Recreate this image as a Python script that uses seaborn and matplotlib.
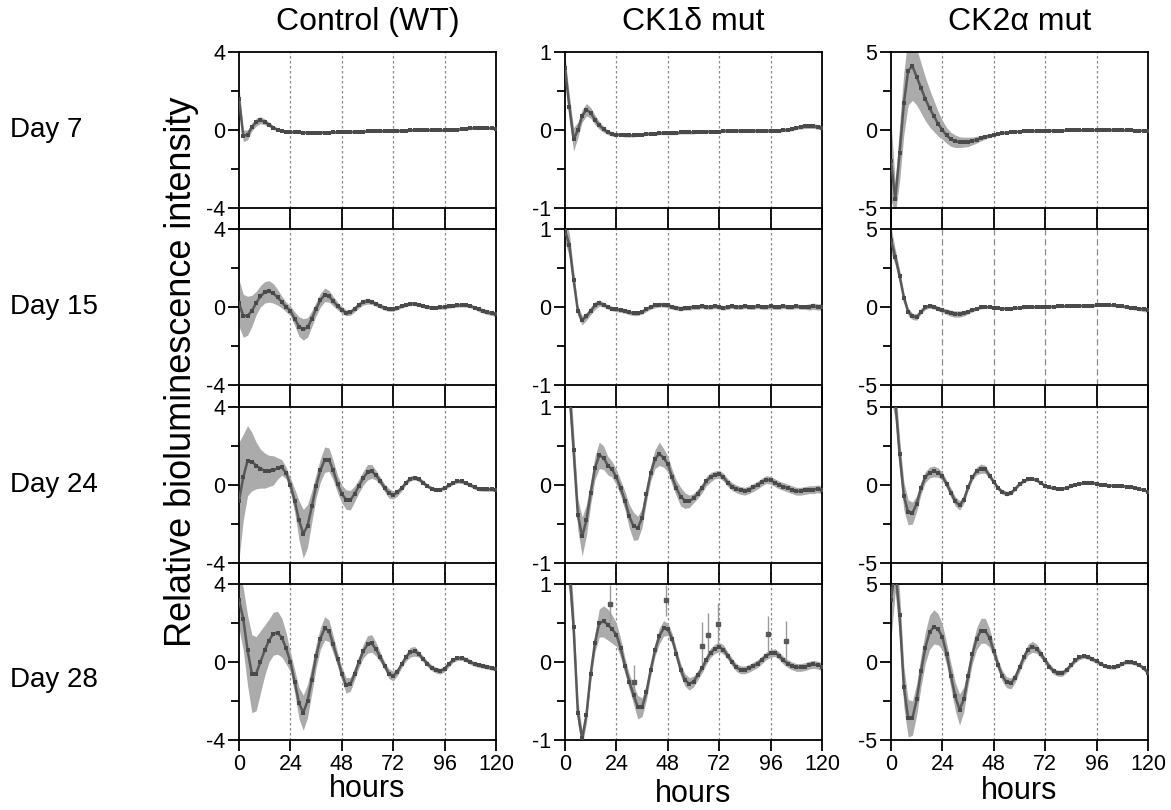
import numpy as np
import matplotlib
matplotlib.use("Agg")
import matplotlib.pyplot as plt
import seaborn as sns

# ---- data (2 h sampling) ----
hours = list(range(0, 121, 2))

conditions = ["Control (WT)", "CK1δ mut", "CK2α mut"]
days = ["Day 7", "Day 15", "Day 24", "Day 28"]
y_limits = [4, 1, 5]
x_ticks = [0, 24, 48, 72, 96, 120]
day_lines = [24, 48, 72, 96]

wt_d7_mean = [1.6, -0.3, -0.25, 0.15, 0.4, 0.5, 0.42, 0.28, 0.12, 0.02,
              -0.05, -0.1, -0.1, -0.12, -0.12, -0.13, -0.13, -0.13, -0.13, -0.13,
              -0.13, -0.13, -0.12, -0.12, -0.12, -0.11, -0.1, -0.1, -0.09, -0.08,
              -0.07, -0.07, -0.06, -0.06, -0.05, -0.05, -0.05, -0.05, -0.04, -0.03,
              -0.02, -0.01, 0.0, 0.0, 0.0, -0.01, -0.02, -0.02, -0.02, -0.01,
              0.0, 0.02, 0.04, 0.06, 0.08, 0.1, 0.1, 0.1, 0.1, 0.08,
              0.06]
wt_d7_sd = [0.6, 0.3, 0.25, 0.2, 0.2, 0.18, 0.15, 0.12, 0.1, 0.08,
            0.07, 0.06, 0.06, 0.06, 0.06, 0.06, 0.06, 0.06, 0.06, 0.06,
            0.06, 0.06, 0.06, 0.06, 0.06, 0.06, 0.06, 0.06, 0.06, 0.06,
            0.06, 0.06, 0.06, 0.06, 0.06, 0.06, 0.06, 0.06, 0.06, 0.06,
            0.06, 0.06, 0.06, 0.06, 0.06, 0.06, 0.06, 0.06, 0.06, 0.06,
            0.06, 0.06, 0.06, 0.06, 0.06, 0.06, 0.06, 0.06, 0.06, 0.06,
            0.06]

ck1_d7_mean = [0.8, 0.3, -0.12, 0.0, 0.18, 0.26, 0.22, 0.13, 0.06, 0.01,
               -0.03, -0.05, -0.06, -0.06, -0.07, -0.07, -0.07, -0.06, -0.06, -0.05,
               -0.05, -0.05, -0.04, -0.04, -0.04, -0.04, -0.04, -0.03, -0.03, -0.03,
               -0.03, -0.02, -0.02, -0.02, -0.02, -0.02, -0.02, -0.01, -0.01, -0.01,
               -0.01, -0.01, -0.01, -0.01, -0.01, -0.01, -0.01, -0.01, -0.01, -0.01,
               -0.01, 0.0, 0.0, 0.01, 0.03, 0.04, 0.05, 0.05, 0.05, 0.04,
               0.03]
ck1_d7_sd = [0.15, 0.15, 0.15, 0.1, 0.08, 0.08, 0.07, 0.06, 0.05, 0.04,
             0.03, 0.03, 0.02, 0.02, 0.02, 0.02, 0.02, 0.02, 0.02, 0.02,
             0.02, 0.02, 0.02, 0.02, 0.02, 0.02, 0.02, 0.02, 0.02, 0.02,
             0.02, 0.02, 0.02, 0.02, 0.02, 0.02, 0.02, 0.02, 0.02, 0.02,
             0.02, 0.02, 0.02, 0.02, 0.02, 0.02, 0.02, 0.02, 0.02, 0.02,
             0.02, 0.02, 0.02, 0.02, 0.02, 0.03, 0.03, 0.03, 0.03, 0.03,
             0.03]

ck2_d7_mean = [-2.0, -4.4, -1.5, 1.7, 3.8, 4.1, 3.4, 2.7, 2.0, 1.4,
               0.9, 0.4, 0.0, -0.35, -0.6, -0.72, -0.78, -0.78, -0.76, -0.7,
               -0.62, -0.52, -0.44, -0.36, -0.3, -0.25, -0.2, -0.17, -0.14, -0.12,
               -0.1, -0.09, -0.08, -0.07, -0.06, -0.06, -0.05, -0.05, -0.04, -0.04,
               -0.04, -0.03, -0.03, -0.03, -0.02, -0.02, -0.02, -0.01, -0.01, 0.0,
               0.0, 0.0, -0.01, -0.02, -0.02, -0.03, -0.03, -0.04, -0.04, -0.05,
               -0.05]
ck2_d7_sd = [2.5, 1.0, 1.8, 2.0, 2.2, 2.2, 1.8, 1.6, 1.4, 1.2,
             1.0, 0.8, 0.6, 0.5, 0.45, 0.4, 0.35, 0.32, 0.3, 0.25,
             0.22, 0.18, 0.15, 0.12, 0.1, 0.08, 0.08, 0.07, 0.07, 0.06,
             0.06, 0.06, 0.06, 0.06, 0.06, 0.06, 0.05, 0.05, 0.05, 0.05,
             0.05, 0.05, 0.05, 0.05, 0.05, 0.05, 0.05, 0.05, 0.05, 0.05,
             0.05, 0.05, 0.05, 0.05, 0.05, 0.05, 0.05, 0.05, 0.05, 0.05,
             0.05]

wt_d15_mean = [0.2, -0.45, -0.45, -0.2, 0.2, 0.55, 0.75, 0.8, 0.7, 0.5,
               0.25, 0.0, -0.2, -0.6, -1.0, -1.15, -1.05, -0.6, -0.1, 0.35,
               0.62, 0.55, 0.3, 0.05, -0.15, -0.3, -0.28, -0.1, 0.1, 0.25,
               0.3, 0.25, 0.15, 0.05, -0.05, -0.12, -0.12, -0.05, 0.05, 0.12,
               0.17, 0.17, 0.12, 0.06, 0.0, -0.03, -0.03, -0.02, 0.0, 0.04,
               0.07, 0.09, 0.1, 0.1, 0.05, -0.03, -0.12, -0.2, -0.27, -0.32,
               -0.37]
wt_d15_sd = [1.2, 1.1, 1.0, 0.8, 0.6, 0.55, 0.55, 0.55, 0.5, 0.4,
             0.3, 0.25, 0.25, 0.35, 0.5, 0.55, 0.5, 0.4, 0.35, 0.35,
             0.35, 0.3, 0.25, 0.2, 0.18, 0.15, 0.15, 0.15, 0.15, 0.15,
             0.15, 0.12, 0.12, 0.12, 0.12, 0.1, 0.1, 0.1, 0.1, 0.1,
             0.1, 0.1, 0.1, 0.1, 0.1, 0.1, 0.1, 0.1, 0.1, 0.1,
             0.1, 0.1, 0.1, 0.1, 0.1, 0.1, 0.12, 0.12, 0.12, 0.12,
             0.12]

ck1_d15_mean = [0.98, 0.8, 0.35, -0.05, -0.17, -0.12, -0.05, 0.02, 0.05, 0.03,
                0.0, -0.02, -0.03, -0.04, -0.05, -0.07, -0.08, -0.08, -0.06, -0.03,
                0.0, 0.02, 0.03, 0.03, 0.02, 0.0, -0.01, -0.02, -0.01, -0.01,
                0.0, 0.0, 0.01, 0.0, 0.0, 0.01, 0.0, -0.01, 0.0, 0.01,
                0.0, 0.0, 0.01, 0.0, 0.0, 0.01, 0.0, 0.0, 0.01, 0.0,
                0.0, 0.01, 0.0, 0.0, 0.01, 0.0, 0.0, 0.0, 0.01, 0.0,
                0.0]
ck1_d15_sd = [0.15, 0.15, 0.12, 0.07, 0.06, 0.05, 0.05, 0.05, 0.04, 0.03,
              0.03, 0.03, 0.03, 0.03, 0.03, 0.03, 0.03, 0.03, 0.03, 0.03,
              0.03, 0.03, 0.03, 0.03, 0.03, 0.03, 0.03, 0.03, 0.03, 0.03,
              0.03, 0.03, 0.03, 0.03, 0.03, 0.03, 0.03, 0.03, 0.03, 0.03,
              0.03, 0.03, 0.03, 0.03, 0.03, 0.03, 0.03, 0.03, 0.03, 0.03,
              0.03, 0.03, 0.03, 0.03, 0.03, 0.03, 0.03, 0.04, 0.04, 0.04,
              0.04]

ck2_d15_mean = [4.3, 3.2, 2.0, 0.6, -0.3, -0.6, -0.65, -0.3, -0.02, 0.07,
                0.02, -0.1, -0.2, -0.3, -0.4, -0.45, -0.45, -0.4, -0.3, -0.2,
                -0.1, -0.03, 0.0, -0.02, -0.05, -0.08, -0.1, -0.1, -0.1, -0.08,
                -0.05, -0.03, -0.02, 0.0, 0.0, 0.0, 0.0, 0.02, 0.03, 0.04,
                0.05, 0.05, 0.06, 0.07, 0.07, 0.08, 0.08, 0.08, 0.1, 0.12,
                0.12, 0.12, 0.1, 0.07, 0.04, 0.0, -0.05, -0.08, -0.12, -0.15,
                -0.18]
ck2_d15_sd = [0.8, 0.5, 0.4, 0.3, 0.25, 0.2, 0.2, 0.15, 0.15, 0.15,
              0.15, 0.15, 0.15, 0.18, 0.2, 0.2, 0.2, 0.18, 0.15, 0.12,
              0.1, 0.1, 0.1, 0.08, 0.08, 0.08, 0.08, 0.08, 0.08, 0.08,
              0.08, 0.08, 0.08, 0.08, 0.08, 0.08, 0.08, 0.08, 0.08, 0.08,
              0.08, 0.08, 0.08, 0.08, 0.08, 0.08, 0.08, 0.08, 0.08, 0.08,
              0.08, 0.08, 0.08, 0.08, 0.08, 0.1, 0.1, 0.12, 0.12, 0.15,
              0.15]

wt_d24_mean = [-0.8, 0.4, 1.25, 1.2, 1.0, 0.84, 0.74, 0.72, 0.75, 0.85,
               0.9, 0.62, 0.0, -0.8, -1.8, -2.5, -2.1, -1.1, -0.05, 0.75,
               1.3, 1.3, 0.75, 0.05, -0.45, -0.75, -0.78, -0.45, -0.05, 0.35,
               0.65, 0.7, 0.5, 0.2, -0.15, -0.42, -0.52, -0.38, -0.15, 0.12,
               0.33, 0.38, 0.3, 0.12, -0.06, -0.18, -0.24, -0.24, -0.15, -0.02,
               0.12, 0.2, 0.18, 0.1, 0.0, -0.12, -0.2, -0.22, -0.22, -0.22,
               -0.24]
wt_d24_sd = [3.0, 2.2, 1.8, 1.5, 1.2, 1.0, 0.9, 0.8, 0.75, 0.55,
             0.4, 0.3, 0.35, 0.6, 1.0, 1.25, 1.1, 0.8, 0.6, 0.6,
             0.65, 0.6, 0.5, 0.45, 0.45, 0.5, 0.5, 0.4, 0.35, 0.35,
             0.4, 0.35, 0.25, 0.2, 0.2, 0.25, 0.2, 0.18, 0.15, 0.12,
             0.12, 0.12, 0.12, 0.12, 0.1, 0.1, 0.1, 0.1, 0.1, 0.1,
             0.1, 0.1, 0.1, 0.1, 0.1, 0.1, 0.1, 0.1, 0.1, 0.1,
             0.1]

ck1_d24_mean = [1.6, 1.25, 0.45, -0.38, -0.66, -0.45, -0.1, 0.22, 0.38, 0.35,
                0.25, 0.2, 0.1, -0.04, -0.2, -0.4, -0.53, -0.55, -0.42, -0.12,
                0.15, 0.33, 0.4, 0.35, 0.27, 0.1, -0.04, -0.15, -0.2, -0.21,
                -0.17, -0.11, -0.04, 0.05, 0.1, 0.13, 0.14, 0.1, 0.03, -0.02,
                -0.05, -0.07, -0.08, -0.06, -0.03, 0.0, 0.04, 0.07, 0.06, 0.03,
                0.0, -0.02, -0.04, -0.06, -0.08, -0.08, -0.07, -0.06, -0.06, -0.05,
                -0.06]
ck1_d24_sd = [0.3, 0.3, 0.25, 0.2, 0.25, 0.2, 0.15, 0.15, 0.17, 0.15,
              0.12, 0.1, 0.1, 0.1, 0.12, 0.15, 0.18, 0.15, 0.12, 0.1,
              0.1, 0.12, 0.15, 0.12, 0.1, 0.1, 0.1, 0.12, 0.1, 0.08,
              0.06, 0.06, 0.06, 0.06, 0.06, 0.05, 0.05, 0.05, 0.05, 0.05,
              0.05, 0.05, 0.05, 0.05, 0.05, 0.05, 0.05, 0.05, 0.05, 0.05,
              0.05, 0.05, 0.05, 0.05, 0.05, 0.05, 0.05, 0.05, 0.05, 0.05,
              0.05]

ck2_d24_mean = [7.0, 5.4, 2.0, -0.7, -1.75, -1.8, -1.2, -0.2, 0.5, 0.8,
                0.87, 0.8, 0.55, 0.05, -0.5, -1.05, -1.3, -0.95, -0.15, 0.5,
                0.9, 1.05, 1.0, 0.6, 0.2, -0.2, -0.45, -0.55, -0.5, -0.25,
                0.05, 0.25, 0.38, 0.4, 0.3, 0.12, -0.05, -0.15, -0.22, -0.25,
                -0.25, -0.18, -0.08, 0.02, 0.08, 0.12, 0.13, 0.13, 0.08, 0.02,
                -0.02, -0.04, -0.05, -0.06, -0.07, -0.1, -0.14, -0.2, -0.26, -0.33,
                -0.42]
ck2_d24_sd = [1.5, 1.2, 1.0, 0.9, 0.8, 0.7, 0.5, 0.4, 0.35, 0.35,
              0.35, 0.3, 0.25, 0.25, 0.3, 0.3, 0.3, 0.25, 0.2, 0.2,
              0.25, 0.3, 0.25, 0.2, 0.15, 0.15, 0.15, 0.15, 0.12, 0.12,
              0.1, 0.1, 0.1, 0.1, 0.1, 0.08, 0.08, 0.08, 0.08, 0.08,
              0.08, 0.08, 0.08, 0.08, 0.08, 0.08, 0.08, 0.08, 0.08, 0.08,
              0.06, 0.06, 0.06, 0.06, 0.06, 0.06, 0.06, 0.06, 0.06, 0.06,
              0.06]

wt_d28_mean = [3.2, 2.2, 0.6, -0.6, -0.6, 0.0, 0.6, 1.1, 1.45, 1.5,
               1.25, 0.7, 0.0, -1.0, -2.1, -2.6, -2.0, -0.9, 0.3, 1.2,
               1.72, 1.6, 0.9, 0.15, -0.6, -1.2, -1.15, -0.6, 0.0, 0.55,
               0.9, 0.95, 0.65, 0.25, -0.2, -0.6, -0.72, -0.5, -0.1, 0.25,
               0.5, 0.55, 0.4, 0.15, -0.1, -0.3, -0.42, -0.47, -0.35, -0.1,
               0.1, 0.2, 0.2, 0.12, 0.0, -0.1, -0.16, -0.2, -0.25, -0.3,
               -0.35]
wt_d28_sd = [1.5, 1.6, 1.8, 2.0, 1.9, 1.6, 1.3, 1.1, 1.1, 1.1,
             1.0, 0.8, 0.5, 0.6, 0.8, 0.9, 0.85, 0.7, 0.6, 0.55,
             0.6, 0.55, 0.45, 0.35, 0.35, 0.4, 0.35, 0.3, 0.3, 0.35,
             0.45, 0.45, 0.35, 0.25, 0.2, 0.25, 0.25, 0.2, 0.18, 0.2,
             0.25, 0.25, 0.15, 0.15, 0.15, 0.15, 0.15, 0.15, 0.15, 0.15,
             0.12, 0.12, 0.12, 0.12, 0.12, 0.12, 0.12, 0.12, 0.12, 0.12,
             0.12]

ck1_d28_mean = [1.5, 1.2, 0.45, -0.65, -0.98, -0.68, -0.15, 0.25, 0.5, 0.52,
                0.48, 0.42, 0.35, 0.18, -0.05, -0.25, -0.42, -0.58, -0.58, -0.39,
                -0.1, 0.15, 0.33, 0.43, 0.42, 0.3, 0.1, -0.1, -0.23, -0.28,
                -0.25, -0.17, -0.08, 0.03, 0.12, 0.17, 0.19, 0.16, 0.08, 0.0,
                -0.07, -0.1, -0.1, -0.08, -0.05, -0.02, 0.03, 0.08, 0.11, 0.12,
                0.08, 0.02, -0.02, -0.05, -0.07, -0.07, -0.06, -0.04, -0.03, -0.04,
                -0.06]
ck1_d28_sd = [0.3, 0.3, 0.25, 0.15, 0.1, 0.1, 0.1, 0.12, 0.18, 0.2,
              0.2, 0.18, 0.15, 0.12, 0.1, 0.1, 0.12, 0.15, 0.12, 0.1,
              0.08, 0.08, 0.1, 0.1, 0.08, 0.07, 0.07, 0.08, 0.08, 0.08,
              0.07, 0.06, 0.06, 0.06, 0.06, 0.06, 0.06, 0.06, 0.05, 0.05,
              0.05, 0.05, 0.05, 0.05, 0.05, 0.05, 0.05, 0.05, 0.05, 0.05,
              0.05, 0.05, 0.05, 0.05, 0.05, 0.05, 0.05, 0.05, 0.05, 0.05,
              0.05]
# isolated single-timepoint outliers with their own error bars
ck1_d28_spike_t = [21, 32, 47, 64, 67, 71.5, 95, 103]
ck1_d28_spike_y = [0.74, -0.26, 0.79, 0.21, 0.34, 0.49, 0.36, 0.27]
ck1_d28_spike_err = [0.25, 0.22, 0.2, 0.3, 0.29, 0.27, 0.23, 0.26]

ck2_d28_mean = [4.0, 6.0, 3.0, -1.6, -3.6, -3.6, -2.4, -0.6, 0.9, 1.9,
                2.25, 2.1, 1.6, 0.5, -0.9, -2.2, -3.05, -2.4, -0.9, 0.5,
                1.5, 2.0, 2.0, 1.55, 0.7, -0.2, -0.9, -1.3, -1.37, -1.0,
                -0.35, 0.3, 0.8, 0.98, 0.85, 0.5, 0.1, -0.3, -0.6, -0.72,
                -0.72, -0.5, -0.2, 0.1, 0.3, 0.38, 0.32, 0.18, 0.05, -0.12,
                -0.25, -0.32, -0.34, -0.25, -0.1, 0.0, -0.02, -0.08, -0.2, -0.4,
                -0.68]
ck2_d28_sd = [2.5, 1.5, 1.5, 1.3, 1.2, 1.1, 1.0, 1.0, 1.0, 1.1,
              1.1, 1.0, 0.8, 0.7, 0.8, 0.9, 1.0, 0.8, 0.6, 0.6,
              0.7, 0.8, 0.8, 0.6, 0.4, 0.35, 0.35, 0.35, 0.35, 0.3,
              0.3, 0.3, 0.35, 0.35, 0.3, 0.25, 0.2, 0.2, 0.2, 0.2,
              0.2, 0.18, 0.15, 0.15, 0.15, 0.15, 0.15, 0.15, 0.15, 0.12,
              0.12, 0.12, 0.12, 0.12, 0.12, 0.12, 0.12, 0.12, 0.12, 0.15,
              0.15]

panels = {
    (0, 0): (wt_d7_mean, wt_d7_sd), (0, 1): (ck1_d7_mean, ck1_d7_sd), (0, 2): (ck2_d7_mean, ck2_d7_sd),
    (1, 0): (wt_d15_mean, wt_d15_sd), (1, 1): (ck1_d15_mean, ck1_d15_sd), (1, 2): (ck2_d15_mean, ck2_d15_sd),
    (2, 0): (wt_d24_mean, wt_d24_sd), (2, 1): (ck1_d24_mean, ck1_d24_sd), (2, 2): (ck2_d24_mean, ck2_d24_sd),
    (3, 0): (wt_d28_mean, wt_d28_sd), (3, 1): (ck1_d28_mean, ck1_d28_sd), (3, 2): (ck2_d28_mean, ck2_d28_sd),
}

# ---- style ----
sns.set_style("ticks")
plt.rcParams["font.family"] = ["Liberation Sans", "DejaVu Sans"]
plt.rcParams["axes.unicode_minus"] = False
plt.rcParams["text.color"] = "black"

LINE_GREY = "#595959"
DOT_GREY = "#4a4a4a"
BAND_GREY = "#ababab"
GUIDE_GREY = "#8a8a8a"

W, H = 1171, 810
fig = plt.figure(figsize=(W / 100, H / 100), dpi=100)

col_left = [239, 565, 891]
row_top = [52, 229, 407, 584]
ax_w, ax_h = 257, 156
gap = 22

for (r, c), (mean, sd) in panels.items():
    lim = y_limits[c]
    ax = fig.add_axes([col_left[c] / W, 1 - (row_top[r] + ax_h) / H, ax_w / W, ax_h / H])
    m = np.array(mean)
    s = np.array(sd)
    ax.fill_between(hours, m - s, m + s, color=BAND_GREY, linewidth=0, zorder=1)
    sns.lineplot(x=hours, y=mean, ax=ax, color=LINE_GREY, linewidth=1.8,
                 marker="s", markersize=2.6, markeredgewidth=0,
                 markerfacecolor=DOT_GREY, zorder=3)
    if (r, c) == (3, 1):
        ax.errorbar(ck1_d28_spike_t, ck1_d28_spike_y, yerr=ck1_d28_spike_err,
                    fmt="s", ms=2.2, color=LINE_GREY, ecolor="#9a9a9a",
                    elinewidth=1.0, capsize=0, zorder=2)
    dash = (0, (5, 3)) if (r, c) == (1, 2) else (0, (2, 2))
    for t in day_lines:
        ax.axvline(t, color=GUIDE_GREY, linewidth=0.9, linestyle=dash, zorder=0)

    ax.set_xlim(0, 120)
    ax.set_ylim(-lim, lim)
    ax.set_yticks([-lim, 0, lim])
    ax.set_yticklabels([f"-{lim}", "0", f"{lim}"])
    ax.set_yticks([-lim / 2, lim / 2], minor=True)
    ax.set_xticks(x_ticks)
    if r == 3:
        ax.set_xticklabels([str(t) for t in x_ticks])
    else:
        ax.set_xticklabels([])
    ax.tick_params(axis="both", which="major", direction="out", length=8, width=1.3,
                   labelsize=15.5, pad=2, colors="black")
    ax.tick_params(axis="y", which="minor", direction="out", length=6, width=1.3, colors="black")
    ax.tick_params(axis="x", top=(r > 0), bottom=True)
    for sp in ax.spines.values():
        sp.set_visible(True)
        sp.set_linewidth(1.3)
        sp.set_color("black")
    # side spines run on through the gap to the panel below
    if r < 3:
        ext = gap / ax_h * 2 * lim
        ax.spines["left"].set_bounds(-lim - ext, lim)
        ax.spines["right"].set_bounds(-lim - ext, lim)
    ax.set_xlabel("")
    ax.set_ylabel("")

# column titles
for c, name in enumerate(conditions):
    fig.text((col_left[c] + ax_w / 2) / W, 1 - 22 / H, name, ha="center", va="center", fontsize=23)

# row labels
day_y = [130, 307, 485, 680]
for r, name in enumerate(days):
    fig.text(10 / W, 1 - day_y[r] / H, name, ha="left", va="center", fontsize=20)

fig.text(182 / W, 1 - 372 / H, "Relative bioluminescence intensity", rotation=90,
         ha="center", va="center", fontsize=26)

hours_y = [789, 794, 791]
for c in range(3):
    fig.text((col_left[c] + ax_w / 2) / W, 1 - hours_y[c] / H, "hours", ha="center", va="center", fontsize=22)

fig.savefig("out.png", dpi=100)
